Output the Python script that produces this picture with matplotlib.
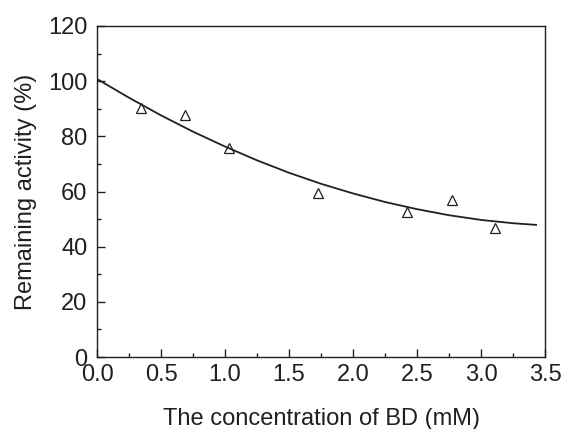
import numpy as np
import matplotlib
matplotlib.use('Agg')
import matplotlib.pyplot as plt
from matplotlib.ticker import MultipleLocator

plt.rcParams['font.family'] = ['Liberation Sans', 'DejaVu Sans']

# measured points
conc = [0.34, 0.69, 1.03, 1.73, 2.42, 2.77, 3.11]
activity = [90.4, 87.7, 75.9, 59.3, 52.5, 57.1, 46.9]

# fitted curve
fit_x = [0.0, 0.25, 0.5, 0.75, 1.0, 1.25, 1.5, 1.75, 2.0, 2.25, 2.5, 2.75, 3.0, 3.25, 3.43]
fit_y = [100.8, 94.0, 87.6, 81.7, 76.3, 71.3, 66.8, 62.8, 59.3, 56.2, 53.6, 51.4, 49.7, 48.5, 47.9]

ink = '#231f20'
fs = 17

fig = plt.figure(figsize=(5.65, 4.29), dpi=100)
ax = fig.add_axes([0.1717, 0.1678, 0.7929, 0.7716])

ax.plot(fit_x, fit_y, '-', color=ink, lw=1.3)
ax.plot(conc, activity, '^', mfc='none', mec=ink, ms=7, mew=0.9)

ax.set_xlim(0, 3.5)
ax.set_ylim(0, 120)
ax.xaxis.set_major_locator(MultipleLocator(0.5))
ax.xaxis.set_minor_locator(MultipleLocator(0.25))
ax.yaxis.set_major_locator(MultipleLocator(20))
ax.yaxis.set_minor_locator(MultipleLocator(10))
ax.xaxis.set_major_formatter(matplotlib.ticker.FormatStrFormatter('%.1f'))

ax.tick_params(which='both', direction='in', top=False, right=False,
               colors=ink, labelsize=fs, width=1.0)
ax.tick_params(which='major', length=6)
ax.tick_params(which='minor', length=3)
ax.tick_params(axis='x', which='major', pad=5)
ax.tick_params(axis='y', which='major', pad=7)
for s in ax.spines.values():
    s.set_color(ink)
    s.set_linewidth(1.0)

ax.set_xlabel('The concentration of BD (mM)', fontsize=fs, color=ink, labelpad=16)
ax.set_ylabel('Remaining activity (%)', fontsize=fs, color=ink, labelpad=8)

fig.savefig('out.png', dpi=100)
